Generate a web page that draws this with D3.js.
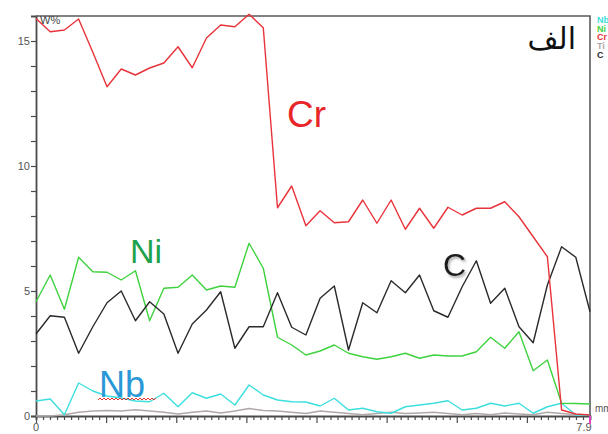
<!DOCTYPE html>
<html><head><meta charset="utf-8">
<script src="https://cdn.jsdelivr.net/npm/d3@7"></script>
<style>html,body{margin:0;padding:0;background:#fff;}svg{display:block;}</style>
</head><body>
<svg id="chart" width="608" height="434"></svg>
<script>
// ---- data ----
const nPoints = 40;
const xMax = 7.9;
const crValues = [15.9,15.37,15.44,15.88,14.55,13.17,13.88,13.64,13.92,14.12,14.77,13.93,15.12,15.64,15.57,16.07,15.53,8.33,9.2,7.61,8.21,7.73,7.77,8.64,7.71,8.64,7.47,8.31,7.51,8.35,8.04,8.31,8.31,8.57,7.97,7.17,6.37,0.24,0.08,0.04];
const niValues = [4.57,5.64,4.27,6.35,5.77,5.75,5.44,5.81,3.81,5.11,5.15,5.64,5.04,5.2,5.15,6.91,5.91,3.15,2.84,2.44,2.6,2.84,2.51,2.37,2.27,2.37,2.51,2.31,2.44,2.4,2.4,2.57,3.15,2.71,3.37,1.81,2.24,0.51,0.5,0.48];
const cValues = [3.28,4.01,3.95,2.51,3.57,4.53,5.0,3.81,4.57,4.08,2.51,3.68,4.24,4.97,2.71,3.57,3.57,4.93,3.55,3.24,4.71,5.2,2.64,4.53,4.13,5.41,4.93,5.64,4.21,3.95,5.17,6.21,4.51,5.11,3.57,2.93,5.24,6.77,6.35,4.17];
const nbValues = [0.6,0.68,0.05,1.32,1.0,0.8,0.72,0.6,0.57,0.91,0.37,0.93,0.71,0.88,0.44,1.24,0.84,0.64,0.57,0.56,0.4,0.71,0.24,0.31,0.17,0.11,0.37,0.44,0.51,0.61,0.24,0.31,0.51,0.4,0.51,0.11,0.37,0.51,0.04,0.04];
const tiValues = [0,0,0.05,0.15,0.2,0.22,0.2,0.25,0.2,0.15,0.08,0.15,0.2,0.12,0.2,0.3,0.22,0.2,0.15,0.1,0.2,0.15,0.1,0.05,0.1,0.15,0.1,0.12,0.15,0.1,0.05,0.1,0.05,0.12,0.08,0.05,0.15,0.1,0.05,0.05];
const yTickLabels = [0,5,10,15];
const xTickLabels = [0,7.9];
const legendNames = ["Nb","Ni","Cr","Ti","C"];
const title = "الف";

// ---- setup ----
const svg = d3.select("#chart");
const x = d3.scaleLinear().domain([0, xMax]).range([36, 590]);
const y = d3.scaleLinear().domain([0, 16]).range([416, 16]);
const xs = d3.range(nPoints).map(i => i * xMax / (nPoints - 1));

const colors = {Nb:"#3ddede", Ni:"#3fd23f", Cr:"#e8333a", Ti:"#b0a8a8", C:"#2a2a2a"};
const series = [
  {name:"Ti", values:tiValues},
  {name:"Nb", values:nbValues},
  {name:"Ni", values:niValues},
  {name:"C", values:cValues},
  {name:"Cr", values:crValues}
];

const defs = svg.append("defs");
const f = defs.append("filter").attr("id","shadow").attr("x","-20%").attr("y","-20%").attr("width","160%").attr("height","160%");
f.append("feDropShadow").attr("dx",1.5).attr("dy",2).attr("stdDeviation",1.2).attr("flood-color","#888").attr("flood-opacity",0.7);

// frame (top + right)
svg.append("path")
  .attr("d", `M${x(0)},${y(16)}H${x(xMax)}V${y(0)}`)
  .attr("fill","none").attr("stroke","#5a5a5a").attr("stroke-width",1.6);

// y axis
const yAxis = d3.axisLeft(y).tickValues(d3.range(0,16,1))
  .tickSize(5).tickFormat(d => yTickLabels.includes(d) ? d : "");
const gy = svg.append("g").attr("transform",`translate(${x(0)},0)`).call(yAxis);
gy.select(".domain").attr("stroke","#4a4a4a").attr("stroke-width",1.8);
gy.selectAll(".tick line").attr("stroke","#4a4a4a").attr("stroke-width",1.2);
gy.selectAll(".tick text").attr("fill","#555").attr("font-family","Liberation Sans, Arial, sans-serif").attr("font-size",11).attr("x",-6);

// x axis
const xMinor = d3.range(0, 80, 1).map(i => i / 10);
const xAxis = d3.axisBottom(x).tickValues(xMinor).tickSizeOuter(0)
  .tickSize(4).tickFormat("");
const gx = svg.append("g").attr("transform",`translate(0,${y(0)})`).call(xAxis);
gx.select(".domain").attr("stroke","#4a4a4a").attr("stroke-width",1.8);
gx.selectAll(".tick line").attr("stroke","#4a4a4a").attr("stroke-width",1.2)
  .attr("y2", d => Math.abs(d - Math.round(d)) < 1e-6 ? 7 : 4);
// x labels
svg.selectAll("text.xl").data(xTickLabels).enter().append("text")
  .attr("class","xl")
  .attr("x", d => d === 0 ? x(d) : x(d) - 6)
  .attr("y", 431)
  .attr("text-anchor","middle")
  .attr("fill","#555").attr("font-family","Liberation Sans, Arial, sans-serif").attr("font-size",11)
  .text(d => d);
// end tick marker (magenta)
svg.append("line").attr("x1",x(xMax)).attr("x2",x(xMax)).attr("y1",y(0)).attr("y2",y(0)+8)
  .attr("stroke","#e040c0").attr("stroke-width",2);
svg.append("text").attr("x",595).attr("y",412).attr("fill","#555")
  .attr("font-family","Liberation Sans, Arial, sans-serif").attr("font-size",10).text("mm");

// lines
const line = d3.line().x((d,i) => x(xs[i])).y(d => y(d));
series.forEach(s => {
  svg.append("path").datum(s.values)
    .attr("d", line).attr("fill","none")
    .attr("stroke", colors[s.name]).attr("stroke-width", 1.4)
    .attr("stroke-linejoin","round");
});

// W% label
svg.append("text").attr("x",40).attr("y",24).attr("fill","#444")
  .attr("font-family","Liberation Sans, Arial, sans-serif").attr("font-size",11).text("W%");

// legend at right (clipped)
svg.selectAll("text.lg").data(legendNames).enter().append("text")
  .attr("class","lg").attr("x",597).attr("y",(d,i)=>23+i*8.7)
  .attr("fill", d => colors[d]).attr("font-family","Liberation Sans, Arial, sans-serif")
  .attr("font-size",9).attr("font-weight","bold").text(d => d);

// series annotations
const font = "Liberation Sans, Arial, sans-serif";
svg.append("text").attr("x",287).attr("y",127).attr("fill","#e8262a")
  .attr("font-family",font).attr("font-size",37).text("Cr");
svg.append("text").attr("x",130).attr("y",263).attr("fill","#1fa24c")
  .attr("font-family",font).attr("font-size",34).text("Ni");
svg.append("text").attr("x",443).attr("y",276).attr("fill","#1e1e1e")
  .attr("font-family",font).attr("font-size",32).attr("filter","url(#shadow)").text("C");
svg.append("text").attr("x",99).attr("y",397).attr("fill","#2a98d6")
  .attr("font-family",font).attr("font-size",36).text("Nb");
// wavy underline
const wave = d3.range(0, 30).map(i => [98 + i*2, 399 + (i%2 ? -1 : 1)]);
svg.append("path").attr("d", d3.line()(wave)).attr("fill","none")
  .attr("stroke","#e03030").attr("stroke-width",1);

// title
svg.append("text").attr("x",576).attr("y",49).attr("text-anchor","end")
  .attr("fill","#111").attr("font-family","DejaVu Sans, sans-serif")
  .attr("font-size",30).text(title);
</script>
</body></html>
